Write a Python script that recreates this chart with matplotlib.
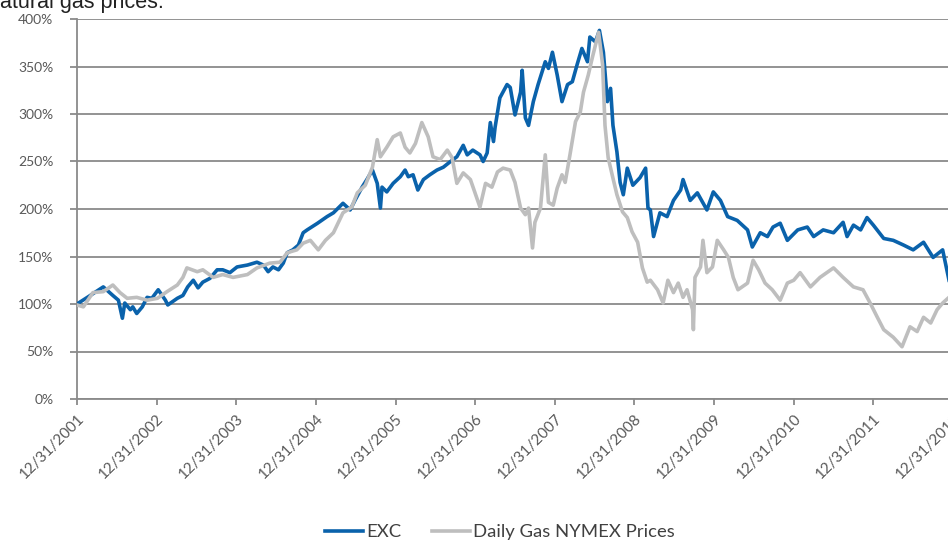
import matplotlib
matplotlib.use("Agg")
import matplotlib.pyplot as plt

# years after 12/31/2001, and value relative to start (%)
exc_t = [0.00, 0.13, 0.33, 0.45, 0.52, 0.57, 0.60, 0.67, 0.70, 0.75, 0.82, 0.88, 0.94,
         1.02, 1.11, 1.14, 1.26, 1.33, 1.39, 1.46, 1.52, 1.58, 1.67, 1.76, 1.83, 1.92,
         2.01, 2.14, 2.26, 2.34, 2.40, 2.46, 2.53, 2.59, 2.64, 2.71, 2.78, 2.84, 2.89,
         3.02, 3.14, 3.22, 3.34, 3.43, 3.49, 3.58, 3.64, 3.71, 3.77, 3.81, 3.83, 3.89,
         3.97, 4.06, 4.12, 4.16, 4.22, 4.28, 4.35, 4.43, 4.52, 4.60, 4.69, 4.77, 4.85,
         4.90, 4.97, 5.06, 5.10, 5.15, 5.19, 5.23, 5.25, 5.31, 5.40, 5.44, 5.50, 5.57,
         5.59, 5.63, 5.67, 5.73, 5.79, 5.88, 5.92, 5.97, 6.03, 6.09, 6.16, 6.22, 6.28,
         6.34, 6.41, 6.44, 6.51, 6.56, 6.61, 6.66, 6.70, 6.73, 6.78, 6.82, 6.86, 6.91,
         6.98, 7.07, 7.14, 7.17, 7.20, 7.24, 7.32, 7.41, 7.49, 7.58, 7.61, 7.70, 7.79,
         7.91, 7.99, 8.08, 8.17, 8.29, 8.42, 8.48, 8.58, 8.67, 8.74, 8.83, 8.92, 9.05,
         9.17, 9.25, 9.37, 9.50, 9.62, 9.67, 9.75, 9.84, 9.92, 10.00, 10.13, 10.25,
         10.38, 10.50, 10.63, 10.75, 10.87, 10.95]
exc_v = [100, 107, 118, 109, 104, 85, 101, 94, 97, 90, 97, 107, 106,
         115, 104, 99, 106, 109, 118, 125, 117, 123, 127, 136, 136, 133,
         139, 141, 144, 141, 134, 139, 136, 143, 154, 157, 162, 175, 178,
         185, 192, 196, 206, 199, 209, 223, 231, 241, 227, 201, 223, 218,
         227, 234, 241, 234, 236, 220, 231, 236, 241, 244, 250, 255, 267,
         257, 262, 257, 250, 259, 291, 271, 286, 317, 331, 328, 299, 323,
         346, 296, 288, 313, 331, 355, 348, 365, 341, 313, 331, 334, 352,
         369, 355, 381, 376, 388, 365, 313, 327, 288, 260, 228, 215, 243,
         225, 233, 243, 201, 199, 171, 196, 192, 209, 220, 231, 209, 217,
         199, 218, 209, 192, 188, 178, 160, 175, 171, 181, 185, 167, 178,
         181, 171, 178, 175, 186, 171, 183, 178, 191, 183, 169, 167,
         162, 157, 165, 149, 157, 125]

gas_t = [0.00, 0.08, 0.20, 0.33, 0.45, 0.54, 0.63, 0.75, 0.88, 1.01, 1.13, 1.26, 1.33,
         1.38, 1.51, 1.58, 1.71, 1.83, 1.96, 2.14, 2.26, 2.42, 2.55, 2.64, 2.76, 2.84,
         2.93, 3.03, 3.12, 3.22, 3.34, 3.45, 3.52, 3.62, 3.71, 3.77, 3.81, 3.89, 3.97,
         4.06, 4.12, 4.18, 4.25, 4.33, 4.41, 4.47, 4.56, 4.65, 4.71, 4.77, 4.85, 4.94,
         5.03, 5.06, 5.13, 5.21, 5.28, 5.35, 5.44, 5.50, 5.57, 5.63, 5.67, 5.72, 5.75,
         5.82, 5.88, 5.92, 5.98, 6.03, 6.09, 6.13, 6.19, 6.26, 6.32, 6.36, 6.42, 6.47,
         6.52, 6.55, 6.60, 6.63, 6.67, 6.72, 6.78, 6.85, 6.91, 6.97, 7.04, 7.10, 7.16,
         7.20, 7.29, 7.36, 7.42, 7.49, 7.55, 7.61, 7.66, 7.73, 7.74, 7.76, 7.83, 7.86,
         7.91, 7.98, 8.04, 8.12, 8.18, 8.24, 8.30, 8.42, 8.49, 8.56, 8.64, 8.73, 8.83,
         8.92, 9.00, 9.08, 9.21, 9.33, 9.50, 9.62, 9.75, 9.87, 9.96, 10.05, 10.13,
         10.25, 10.36, 10.46, 10.55, 10.63, 10.72, 10.80, 10.87, 10.95]
gas_v = [99, 97, 112, 113, 120, 112, 106, 107, 104, 106, 113, 120, 128,
         138, 134, 136, 128, 131, 128, 131, 138, 143, 144, 154, 157, 164,
         167, 157, 167, 175, 196, 202, 217, 225, 244, 273, 255, 265, 276,
         280, 265, 259, 269, 291, 276, 255, 252, 262, 254, 227, 238, 231,
         209, 202, 227, 223, 239, 243, 241, 228, 201, 194, 201, 159, 186,
         201, 257, 207, 204, 222, 236, 228, 257, 292, 302, 323, 341, 359,
         376, 386, 352, 288, 254, 236, 215, 197, 191, 176, 165, 138, 123,
         125, 115, 101, 125, 112, 122, 107, 115, 94, 73, 128, 139, 167,
         133, 139, 167, 157, 149, 128, 115, 122, 146, 136, 122, 115, 104,
         122, 125, 133, 118, 128, 138, 128, 118, 115, 101, 86, 73,
         65, 55, 76, 71, 86, 80, 94, 101, 107]

tick_labels = ["12/31/2001", "12/31/2002", "12/31/2003", "12/31/2004", "12/31/2005",
               "12/31/2006", "12/31/2007", "12/31/2008", "12/31/2009", "12/31/2010",
               "12/31/2011", "12/31/2012"]
y_ticks = [0, 50, 100, 150, 200, 250, 300, 350, 400]

plt.rcParams['font.family'] = ['Lato', 'DejaVu Sans']

fig = plt.figure(figsize=(9.48, 5.4), dpi=100)
ax = fig.add_axes([77/948, 141/540, 876/948, 380/540])

grid_col = '#8a8a8a'
ax.plot(exc_t, exc_v, color='#0A62AB', lw=2.6, label='EXC', zorder=3)
ax.plot(gas_t, gas_v, color='#BEBEBE', lw=2.6, label='Daily Gas NYMEX Prices', zorder=4)

ax.set_xlim(0, 11)
ax.set_ylim(0, 400)
ax.set_yticks(y_ticks)
ax.set_yticklabels([f"{v}%" for v in y_ticks])
ax.set_xticks(range(len(tick_labels)))
ax.set_xticklabels(tick_labels, rotation=45, ha='right', va='top', rotation_mode='anchor')

ax.yaxis.grid(True, color=grid_col, lw=1.3, zorder=1)
ax.set_axisbelow(True)
for s in ['top', 'right']:
    ax.spines[s].set_visible(False)
for s in ['left', 'bottom']:
    ax.spines[s].set_color(grid_col)
    ax.spines[s].set_linewidth(1.3)
ax.tick_params(axis='y', length=5, width=1.3, color=grid_col, pad=12, labelsize=10, labelcolor='#595959')
ax.tick_params(axis='x', length=4, width=1.3, color=grid_col, pad=5, labelsize=11, labelcolor='#595959')

fig.text(0.0, 532/540, "atural gas prices.", family='Liberation Sans', fontsize=15.5,
         color='#222222', ha='left', va='baseline')

fig.legend(loc='center', bbox_to_anchor=(500/948, 1 - 532/540), ncol=2, frameon=False,
           fontsize=13.3, handlelength=2.05, handletextpad=0.16, columnspacing=1.7,
           labelcolor='#404040')

fig.savefig('out.png', dpi=100)
